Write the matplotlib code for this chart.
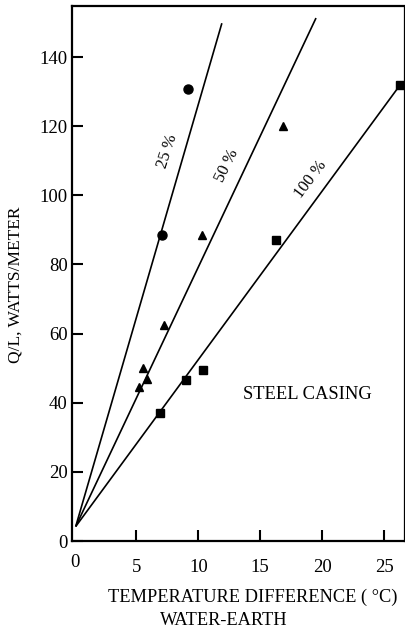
import numpy as np
import matplotlib
matplotlib.use("Agg")
import matplotlib.pyplot as plt

plt.rcParams['font.family'] = ['Liberation Serif', 'DejaVu Serif']

circ_x = [9.2, 7.05]
circ_y = [130.7, 88.5]
tri_x = [16.8, 10.3, 7.2, 5.5, 5.85, 5.2]
tri_y = [120.0, 88.5, 62.5, 50.0, 47.0, 44.5]
sq_x = [26.3, 16.25, 10.4, 9.0, 6.9]
sq_y = [132.0, 87.0, 49.5, 46.6, 37.0]

# fitted lines: common start and end points
line_x0, line_y0 = 0.1, 4.2
line_ends_x = [11.9, 19.5, 26.3]
line_ends_y = [149.8, 151.3, 132.0]
line_labels = ["25 %", "50 %", "100 %"]
label_pos = [(7.5, 112.8, 72), (12.3, 108.5, 64), (19.1, 104.7, 53)]

yticks = [0, 20, 40, 60, 80, 100, 120, 140]
xticks = [5, 10, 15, 20, 25]

fig = plt.figure(figsize=(4.06, 6.31), dpi=100)
ax = fig.add_axes([0.1773, 0.1426, 0.8177, 0.848])

for xe, ye in zip(line_ends_x, line_ends_y):
    ax.plot([line_x0, xe], [line_y0, ye], color="black", lw=1.2, solid_capstyle="butt")

ax.plot(circ_x, circ_y, "o", color="black", ms=6.5, ls="none")
ax.plot(tri_x, tri_y, "^", color="black", ms=5.5, ls="none")
ax.plot(sq_x, sq_y, "s", color="black", ms=6, ls="none")

for lab, (lx, ly, rot) in zip(line_labels, label_pos):
    ax.text(lx, ly, lab, rotation=rot, ha="center", va="center", fontsize=12)

ax.text(18.8, 42.5, "STEEL CASING", ha="center", va="center", fontsize=13.3)

ax.set_xlim(-0.2, 26.6)
ax.set_ylim(0, 154.8)
ax.set_yticks(yticks)
ax.set_xticks(xticks)
ax.set_yticklabels([str(v) for v in yticks])
ax.set_xticklabels([str(v) for v in xticks])
ax.tick_params(axis="y", direction="in", length=8, width=1.5, pad=3, labelsize=13.5)
ax.tick_params(axis="x", direction="in", length=8, width=1.5, pad=13, labelsize=13.5)
# the "0" of the x axis sits under the corner
ax.text(0.0, -0.025, "0", transform=ax.get_xaxis_transform(), ha="center", va="top", fontsize=13.5)

for side in ("left", "bottom", "top"):
    ax.spines[side].set_linewidth(1.6)
ax.spines["right"].set_linewidth(0.9)

fig.text(0.037, 0.548, "Q/L, WATTS/METER", rotation=90, ha="center", va="center", fontsize=12.5)
fig.text(0.622, 0.054, "TEMPERATURE DIFFERENCE ( °C)", ha="center", va="center", fontsize=13.2)
fig.text(0.552, 0.017, "WATER-EARTH", ha="center", va="center", fontsize=13.2)

fig.savefig("out.png", dpi=100)
